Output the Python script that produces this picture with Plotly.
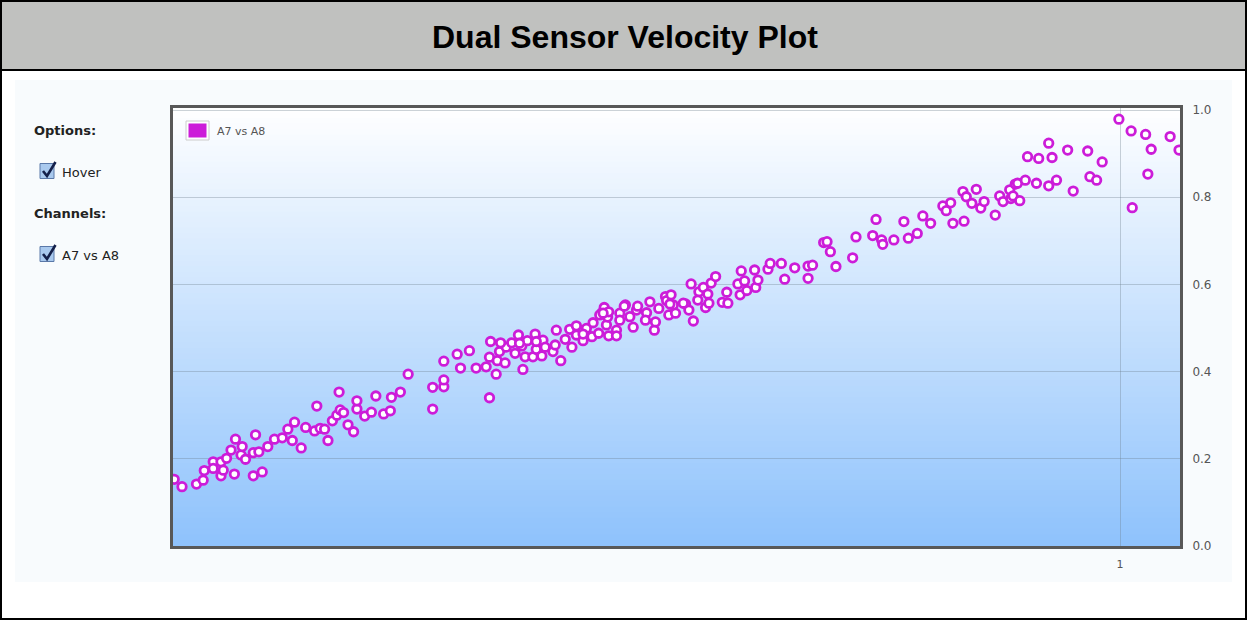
import plotly.graph_objects as go

# ---------------- data ----------------
series_name = "A7 vs A8"
x_ticks = [1]
y_ticks = [0.0, 0.2, 0.4, 0.6, 0.8, 1.0]

x_vals = [
    0.151, 0.158, 0.171, 0.177, 0.178, 0.186, 0.186, 0.193, 0.193, 0.195,
    0.198, 0.202, 0.205, 0.206, 0.211, 0.212, 0.215, 0.222, 0.222, 0.224,
    0.227, 0.230, 0.235, 0.241, 0.248, 0.253, 0.257, 0.259, 0.265, 0.269,
    0.277, 0.279, 0.282, 0.286, 0.289, 0.293, 0.297, 0.299, 0.300, 0.303,
    0.307, 0.312, 0.315, 0.315, 0.322, 0.328, 0.332, 0.339, 0.345, 0.346,
    0.354, 0.361, 0.383, 0.383, 0.393, 0.393, 0.393, 0.405, 0.408, 0.416,
    0.422, 0.431, 0.434, 0.435, 0.434, 0.440, 0.441, 0.443, 0.448, 0.449,
    0.454, 0.457, 0.460, 0.463, 0.464, 0.466, 0.468, 0.473, 0.475, 0.476,
    0.481, 0.482, 0.484, 0.491, 0.493, 0.494, 0.498, 0.502, 0.506, 0.508,
    0.512, 0.512, 0.518, 0.521, 0.526, 0.527, 0.532, 0.535, 0.537, 0.539,
    0.540, 0.541, 0.444, 0.461, 0.476, 0.518, 0.533, 0.541, 0.548, 0.548,
    0.551, 0.551, 0.556, 0.560, 0.563, 0.566, 0.567, 0.575, 0.578, 0.582,
    0.583, 0.586, 0.592, 0.593, 0.595, 0.597, 0.599, 0.601, 0.610, 0.613,
    0.615, 0.617, 0.622, 0.621, 0.626, 0.628, 0.630, 0.631, 0.633, 0.637,
    0.643, 0.647, 0.648, 0.657, 0.659, 0.660, 0.663, 0.665, 0.672, 0.673,
    0.675, 0.684, 0.686, 0.696, 0.699, 0.708, 0.720, 0.724, 0.720, 0.734,
    0.737, 0.740, 0.745, 0.760, 0.763, 0.778, 0.781, 0.786, 0.787, 0.797,
    0.806, 0.810, 0.818, 0.823, 0.830, 0.841, 0.844, 0.848, 0.850, 0.859,
    0.860, 0.862, 0.867, 0.871, 0.875, 0.878, 0.888, 0.892, 0.895, 0.901,
    0.902, 0.904, 0.906, 0.908, 0.910, 0.915, 0.917, 0.925, 0.927, 0.936,
    0.939, 0.936, 0.943, 0.953, 0.958, 0.971, 0.973, 0.979, 0.984, 0.999,
    1.010, 1.023, 1.045, 1.028, 1.053, 1.025, 1.011, 0.536, 0.555, 0.574,
    0.608, 0.596,
]

y_vals = [
    0.153, 0.136, 0.142, 0.151, 0.173, 0.193, 0.178, 0.193, 0.161, 0.174,
    0.201, 0.220, 0.165, 0.245, 0.209, 0.228, 0.199, 0.161, 0.214, 0.255,
    0.216, 0.170, 0.228, 0.245, 0.248, 0.268, 0.242, 0.284, 0.225, 0.272,
    0.264, 0.321, 0.270, 0.268, 0.242, 0.287, 0.300, 0.353, 0.312, 0.306,
    0.278, 0.262, 0.314, 0.333, 0.298, 0.307, 0.344, 0.303, 0.310, 0.341,
    0.353, 0.394, 0.314, 0.364, 0.365, 0.381, 0.424, 0.440, 0.408, 0.448,
    0.408, 0.411, 0.340, 0.469, 0.433, 0.394, 0.425, 0.446, 0.420, 0.456,
    0.466, 0.442, 0.484, 0.459, 0.405, 0.434, 0.471, 0.434, 0.486, 0.451,
    0.436, 0.472, 0.456, 0.446, 0.461, 0.495, 0.425, 0.474, 0.497, 0.456,
    0.505, 0.484, 0.471, 0.499, 0.480, 0.512, 0.488, 0.535, 0.547, 0.507,
    0.525, 0.482, 0.466, 0.465, 0.469, 0.486, 0.530, 0.537, 0.495, 0.482,
    0.534, 0.518, 0.553, 0.526, 0.502, 0.541, 0.550, 0.535, 0.560, 0.495,
    0.514, 0.545, 0.572, 0.563, 0.530, 0.576, 0.553, 0.534, 0.555, 0.541,
    0.601, 0.516, 0.583, 0.564, 0.593, 0.547, 0.578, 0.557, 0.603, 0.618,
    0.559, 0.582, 0.557, 0.601, 0.576, 0.631, 0.608, 0.586, 0.633, 0.593,
    0.610, 0.635, 0.648, 0.648, 0.612, 0.638, 0.642, 0.644, 0.614, 0.696,
    0.698, 0.675, 0.641, 0.661, 0.709, 0.712, 0.749, 0.702, 0.692, 0.702,
    0.744, 0.706, 0.717, 0.757, 0.740, 0.780, 0.769, 0.787, 0.740, 0.813,
    0.745, 0.801, 0.786, 0.818, 0.775, 0.790, 0.759, 0.803, 0.790, 0.817,
    0.797, 0.803, 0.830, 0.832, 0.792, 0.839, 0.893, 0.832, 0.889, 0.826,
    0.891, 0.924, 0.839, 0.908, 0.814, 0.906, 0.847, 0.839, 0.881, 0.979,
    0.952, 0.944, 0.939, 0.910, 0.908, 0.853, 0.776, 0.534, 0.550, 0.518,
    0.557, 0.555,
]

# ---------------- geometry helpers (pixel -> paper) ----------------
W, H = 1247, 620
L, R, T, B = 173, 1180, 108, 546


def px(x):
    return (x - L) / (R - L)


def py(y):
    return (B - y) / (B - T)


MAG = "#cc1cd9"

fig = go.Figure()
fig.add_trace(go.Scatter(
    x=x_vals, y=y_vals, mode="markers", name=series_name,
    marker=dict(symbol="circle", size=8.5, color="white",
                line=dict(color=MAG, width=2.8)),
    showlegend=False,
))

shapes = []

# outer frame + header
shapes.append(dict(type="rect", xref="paper", yref="paper",
                   x0=px(0), x1=px(W), y0=py(H), y1=py(0),
                   fillcolor="white", line=dict(width=0), layer="below"))
shapes.append(dict(type="rect", xref="paper", yref="paper",
                   x0=px(15), x1=px(1232), y0=py(582), y1=py(80),
                   fillcolor="#f8fbfd", line=dict(width=0), layer="below"))
shapes.append(dict(type="rect", xref="paper", yref="paper",
                   x0=px(1), x1=px(1246), y0=py(70), y1=py(1),
                   fillcolor="#c0c1bf", line=dict(color="black", width=2)))
shapes.append(dict(type="rect", xref="paper", yref="paper",
                   x0=px(1), x1=px(1246), y0=py(619), y1=py(1),
                   fillcolor="rgba(0,0,0,0)", line=dict(color="black", width=2)))

# gradient plot background
N = 80
top = (255, 255, 255)
bot = (142, 194, 252)
for i in range(N):
    f = (i + 0.5) / N
    c = tuple(int(round(top[k] + (bot[k] - top[k]) * f)) for k in range(3))
    shapes.append(dict(type="rect", xref="paper", yref="paper",
                       x0=0, x1=1, y0=1 - (i + 1) / N, y1=1 - i / N + 0.002,
                       fillcolor="rgb(%d,%d,%d)" % c, line=dict(width=0),
                       layer="below"))

# legend box (inside plot)
shapes.append(dict(type="rect", xref="paper", yref="paper",
                   x0=px(186), x1=px(209), y0=py(140), y1=py(121),
                   fillcolor="rgba(255,255,255,0.7)", line=dict(color="#cccccc", width=1)))
shapes.append(dict(type="rect", xref="paper", yref="paper",
                   x0=px(188.5), x1=px(206.5), y0=py(137.5), y1=py(123.5),
                   fillcolor=MAG, line=dict(width=0)))


# checkboxes
def checkbox(cy):
    shapes.append(dict(type="rect", xref="paper", yref="paper",
                       x0=px(40), x1=px(54), y0=py(cy + 7.5), y1=py(cy - 7.5),
                       fillcolor="#a9c9ee", line=dict(color="#5a78a8", width=1)))
    path = "M %f,%f L %f,%f L %f,%f" % (px(43), py(cy), px(47), py(cy + 5),
                                        px(55.5), py(cy - 9))
    shapes.append(dict(type="path", xref="paper", yref="paper", path=path,
                       line=dict(color="#14204a", width=2.6)))


checkbox(171)
checkbox(254)

ann = []
ann.append(dict(text="<b>Dual Sensor Velocity Plot</b>", x=px(625), y=py(37),
                xref="paper", yref="paper", showarrow=False,
                font=dict(family="Liberation Sans, Arial", size=32, color="black"),
                xanchor="center", yanchor="middle"))
for txt, x0, y0, bold in [("Options:", 32, 130, True), ("Hover", 60, 172, False),
                          ("Channels:", 32, 213, True), ("A7 vs A8", 60, 255, False)]:
    ann.append(dict(text=("<b>%s</b>" % txt) if bold else txt, x=px(x0), y=py(y0),
                    xref="paper", yref="paper", showarrow=False,
                    xanchor="left", yanchor="middle",
                    font=dict(family="DejaVu Sans", size=13, color="#222222")))
ann.append(dict(text=series_name, x=px(215), y=py(131), xref="paper", yref="paper",
                showarrow=False, xanchor="left", yanchor="middle",
                font=dict(family="DejaVu Sans", size=11, color="#555555")))
fig.update_layout(shapes=shapes, annotations=ann)

fig.update_layout(
    width=W, height=H,
    margin=dict(l=L, r=W - R, t=T, b=H - B, pad=0),
    paper_bgcolor="white",
    plot_bgcolor="rgba(0,0,0,0)",
    showlegend=False,
    xaxis=dict(range=[(L - 6) / 1114, (R - 6) / 1114], tickvals=x_ticks,
               ticktext=[str(v) for v in x_ticks],
               showgrid=True, gridcolor="rgba(110,125,140,0.35)", gridwidth=1,
               zeroline=False, showline=True, mirror=True, linecolor="#585858",
               linewidth=3, ticks="", ticklabelstandoff=6,
               tickfont=dict(family="DejaVu Sans", size=11, color="#555555")),
    yaxis=dict(range=[0, 438 / 436], tickvals=y_ticks,
               ticktext=["%.1f" % v for v in y_ticks], side="right",
               showgrid=True, gridcolor="rgba(110,125,140,0.35)", gridwidth=1,
               zeroline=False, showline=True, mirror=True, linecolor="#585858",
               linewidth=3, ticks="", ticklabelstandoff=7,
               tickfont=dict(family="DejaVu Sans", size=12, color="#555555")),
)

fig.write_html("out.html",
               config={"displayModeBar": False},
               post_script="document.body.style.margin='0px';"
                           "document.body.style.overflow='hidden';")
